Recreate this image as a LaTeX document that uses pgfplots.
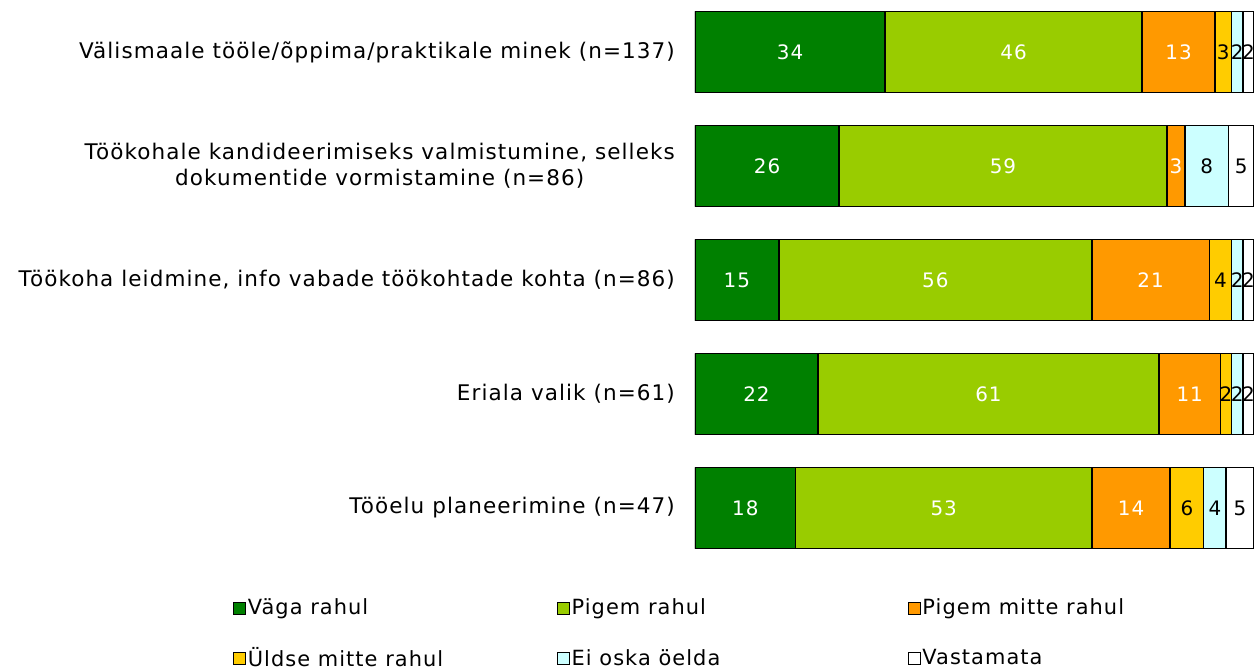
\documentclass[border=0pt]{standalone}
\usepackage{fontspec}
\setmainfont{DejaVu Sans}[LetterSpace=5]
\usepackage{pgfplots}
\pgfplotsset{compat=1.18}

\definecolor{c1}{RGB}{0,128,0}
\definecolor{c2}{RGB}{153,204,0}
\definecolor{c3}{RGB}{255,153,0}
\definecolor{c4}{RGB}{255,204,0}
\definecolor{c5}{RGB}{204,255,255}
\definecolor{c6}{RGB}{255,255,255}

\pgfplotsset{
  mybar/.style={fill=#1, draw=black, line width=1.5bp,
    legend image code/.code={\draw[fill=#1,draw=black,line width=0.8bp] (0bp,-6bp) rectangle (12bp,6bp);}},
}

\begin{document}
\fontsize{21}{25}\selectfont
\begin{tikzpicture}
\useasboundingbox (-695bp,-672bp) rectangle (560bp,0bp);
\begin{axis}[
  at={(0,0)}, anchor=north west,
  scale only axis, width=559bp, height=565bp,
  xbar stacked, bar width=81bp,
  xmin=0, xmax=100, ymin=0.544, ymax=5.5, y dir=reverse,
  axis line style={draw=none}, major tick length=0pt,
  xtick=\empty, ytick={1,2,3,4,5},
  yticklabels={{Välismaale tööle/õppima/praktikale minek (n=137)},
    {Töökohale kandideerimiseks valmistumine, selleks\\dokumentide vormistamine (n=86)},
    {Töökoha leidmine, info vabade töökohtade kohta (n=86)},
    {Eriala valik (n=61)},
    {Tööelu planeerimine (n=47)}},
  yticklabel style={align=center, font=\fontsize{21.6}{26}\selectfont, xshift=-13bp},
  point meta=explicit symbolic,
  nodes near coords,
  every node near coord/.append style={anchor=center, font=\fontsize{20}{24}\selectfont},
  legend columns=3,
  legend cell align=left,
  legend style={draw=none, fill=none, at={(-0.832,-0.052)}, anchor=north west,
    font=\fontsize{21}{25}\selectfont, row sep=26bp, column sep=0pt},
]
\addplot+[mybar=c1, every node near coord/.append style={text=white}] coordinates
  {(34,1) [34] (25.8,2) [26] (15,3) [15] (22,4) [22] (18,5) [18]};
\addlegendentry{\makebox[307bp][l]{Väga rahul}}
\addplot+[mybar=c2, every node near coord/.append style={text=white}] coordinates
  {(46,1) [46] (58.6,2) [59] (56,3) [56] (61,4) [61] (53,5) [53]};
\addlegendentry{\makebox[334bp][l]{Pigem rahul}}
\addplot+[mybar=c3, every node near coord/.append style={text=white}] coordinates
  {(13,1) [13] (3.3,2) [3] (21,3) [21] (11,4) [11] (14,5) [14]};
\addlegendentry{Pigem mitte rahul}
\addplot+[mybar=c4, every node near coord/.append style={text=black}] coordinates
  {(3,1) [3] (0,2) [] (4,3) [4] (2,4) [2] (6,5) [6]};
\addlegendentry{\makebox[307bp][l]{Üldse mitte rahul}}
\addplot+[mybar=c5, every node near coord/.append style={text=black}] coordinates
  {(2,1) [2] (7.7,2) [8] (2,3) [2] (2,4) [2] (4,5) [4]};
\addlegendentry{\makebox[334bp][l]{Ei oska öelda}}
\addplot+[mybar=c6, every node near coord/.append style={text=black}] coordinates
  {(2,1) [2] (4.6,2) [5] (2,3) [2] (2,4) [2] (5,5) [5]};
\addlegendentry{Vastamata}
\end{axis}
\end{tikzpicture}
\end{document}
